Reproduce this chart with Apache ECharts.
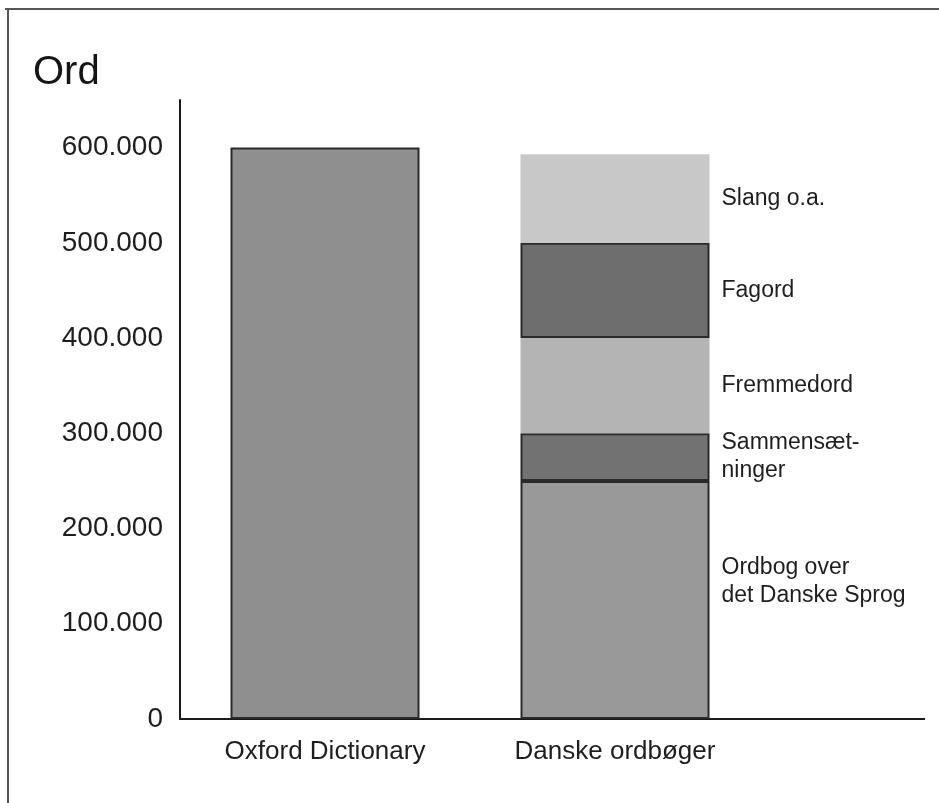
<!DOCTYPE html>
<html>
<head>
<meta charset="utf-8">
<script src="https://cdn.jsdelivr.net/npm/echarts@6/dist/echarts.min.js"></script>
<style>
html,body{margin:0;padding:0;background:#fff;}
#chart{width:939px;height:803px;}
</style>
</head>
<body>
<div id="chart"></div>
<script>
const categories = ['Oxford Dictionary', 'Danske ordbøger'];
const oxford = [600000, '-'];
const ods = ['-', 250000];
const sammensaetninger = ['-', 50000];
const fremmedord = ['-', 100000];
const fagord = ['-', 100000];
const slang = ['-', 93000];
const yTicks = [0, 100000, 200000, 300000, 400000, 500000, 600000];

const FONT = 'Liberation Sans';
const chart = echarts.init(document.getElementById('chart'));

function seg(name, data, color, border, labelText, offset) {
  return {
    name: name, type: 'bar', stack: 'total', data: data, barWidth: 189,
    itemStyle: { color: color, borderColor: border ? '#2a2a2a' : color, borderWidth: border ? 2 : 0 },
    label: labelText ? {
      show: true, position: 'right', distance: 12, formatter: labelText,
      fontFamily: FONT, fontSize: 23, color: '#1e1e1e', lineHeight: 28, align: 'left',
      offset: offset || [0, 0]
    } : { show: false },
    emphasis: { disabled: true }
  };
}

chart.setOption({
  animation: false,
  backgroundColor: '#ffffff',
  title: {
    text: 'Ord', left: 28, top: 48,
    textStyle: { fontFamily: FONT, fontSize: 40, fontWeight: 'normal', color: '#151515' }
  },
  grid: { left: 180, right: 179, top: 100, bottom: 84, containLabel: false },
  xAxis: {
    type: 'category', data: categories,
    axisLine: { lineStyle: { color: '#1a1a1a', width: 2 } },
    axisTick: { show: false },
    axisLabel: { fontFamily: FONT, fontSize: 26, color: '#1e1e1e', margin: 20 }
  },
  yAxis: {
    type: 'value', min: 0, max: 650000, interval: 100000,
    axisLine: { show: true, lineStyle: { color: '#1a1a1a', width: 2 } },
    axisTick: { show: false },
    splitLine: { show: false },
    axisLabel: {
      fontFamily: FONT, fontSize: 28, color: '#1e1e1e', margin: 17,
      formatter: function (v) {
        if (yTicks.indexOf(v) < 0) return '';
        return v === 0 ? '0' : String(v).replace(/\B(?=(\d{3})+(?!\d))/g, '.');
      }
    }
  },
  graphic: [
    { type: 'line', shape: { x1: 760, y1: 719, x2: 925, y2: 719 }, style: { stroke: '#1a1a1a', lineWidth: 2 } },
    { type: 'line', shape: { x1: 5, y1: 9, x2: 939, y2: 9 }, style: { stroke: '#555', lineWidth: 2 } },
    { type: 'line', shape: { x1: 8, y1: 9, x2: 8, y2: 803 }, style: { stroke: '#555', lineWidth: 2 } }
  ],
  series: [
    seg('Oxford Dictionary', oxford, '#8f8f8f', true, null),
    seg('Ordbog over det Danske Sprog', ods, '#999999', true, 'Ordbog over\ndet Danske Sprog', [0, -18]),
    seg('Sammensætninger', sammensaetninger, '#727272', true, 'Sammensæt-\nninger'),
    seg('Fremmedord', fremmedord, '#b4b4b4', false, 'Fremmedord'),
    seg('Fagord', fagord, '#6e6e6e', true, 'Fagord'),
    seg('Slang o.a.', slang, '#c8c8c8', false, 'Slang o.a.')
  ]
});
</script>
</body>
</html>
